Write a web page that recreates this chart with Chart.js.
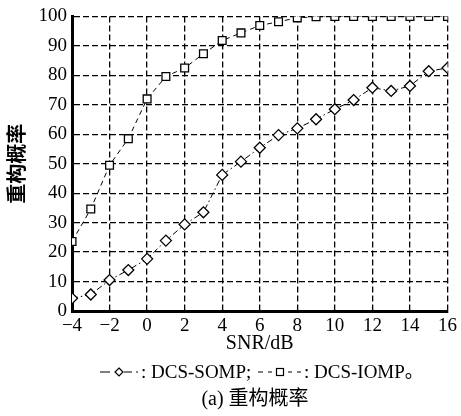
<!DOCTYPE html>
<html lang="zh">
<head>
    <meta charset="UTF-8">
    <title>重构概率</title>
    <style>
        body { margin: 0; background: #fff; }
        .wrap { position: relative; width: 461px; height: 416px; }
    </style>
    <script src="https://cdn.jsdelivr.net/npm/chart.js"></script>
</head>
<body>
    <div class="wrap">
        <canvas id="probChart" width="461" height="416"></canvas>
    </div>

    <script>
        // SNR values (dB) and reconstruction probability (%)
        const snr = [-4, -3, -2, -1, 0, 1, 2, 3, 4, 5, 6, 7, 8, 9, 10, 11, 12, 13, 14, 15, 16];
        const somp = [4.3, 5.6, 10.5, 13.9, 17.7, 23.9, 29.4, 33.5, 46.2, 50.7, 55.4, 59.7, 62, 65.1, 68.5, 71.6, 75.8, 74.7, 76.4, 81.4, 82.5];
        const iomp = [23.6, 34.6, 49.5, 58.5, 72, 79.6, 82.5, 87.3, 91.8, 94.4, 96.9, 98.2, 99.5, 99.9, 100, 100, 100, 100, 100, 100, 100];
        const xLabel = 'SNR/dB';
        const yLabel = '重构概率';
        const caption = '(a) 重构概率';

        const serif = "'Liberation Serif', 'Times New Roman', serif";
        const cjk = "'Liberation Serif', 'Noto Sans CJK SC', serif";

        // draws the y title, legend line and caption
        const extras = {
            id: 'extras',
            afterDraw(chart) {
                const ctx = chart.ctx;
                const area = chart.chartArea;
                ctx.save();
                ctx.fillStyle = '#000';
                ctx.strokeStyle = '#000';

                // vertical y title
                ctx.translate(19, (area.top + area.bottom) / 2);
                ctx.rotate(-Math.PI / 2);
                ctx.font = "bold 20px " + cjk;
                ctx.textAlign = 'center';
                ctx.textBaseline = 'middle';
                ctx.fillText(yLabel, 0, 0);
                ctx.setTransform(1, 0, 0, 1, 0, 0);

                // legend
                const ly = 372;
                ctx.lineWidth = 1.2;
                ctx.beginPath();
                ctx.moveTo(100, ly); ctx.lineTo(110, ly);
                ctx.moveTo(124, ly); ctx.lineTo(132, ly);
                ctx.moveTo(136, ly); ctx.lineTo(138, ly);
                ctx.stroke();
                ctx.beginPath();
                ctx.moveTo(119, ly - 4); ctx.lineTo(123, ly); ctx.lineTo(119, ly + 4); ctx.lineTo(115, ly); ctx.closePath();
                ctx.stroke();

                ctx.beginPath();
                ctx.moveTo(258, ly); ctx.lineTo(263, ly);
                ctx.moveTo(268, ly); ctx.lineTo(272, ly);
                ctx.moveTo(288, ly); ctx.lineTo(292, ly);
                ctx.moveTo(297, ly); ctx.lineTo(301, ly);
                ctx.stroke();
                ctx.strokeRect(276.5, ly - 3.5, 7, 7);

                ctx.font = "19px " + cjk;
                ctx.textAlign = 'left';
                ctx.textBaseline = 'middle';
                ctx.fillText(': DCS-SOMP;', 141, ly + 1);
                ctx.fillText(': DCS-IOMP。', 304, ly + 1);

                // caption
                ctx.textAlign = 'center';
                ctx.font = "20px " + cjk;
                ctx.fillText(caption, 255, 400);
                ctx.restore();
            }
        };

        const gridLines = {
            color: '#000',
            lineWidth: 1.3,
            drawTicks: false
        };

        new Chart(document.getElementById('probChart'), {
            type: 'line',
            data: {
                datasets: [
                    {
                        label: 'DCS-SOMP',
                        data: snr.map((x, i) => ({ x: x, y: somp[i] })),
                        borderColor: '#000',
                        borderWidth: 1,
                        borderDash: [6, 3, 1.5, 3],
                        pointStyle: 'rectRot',
                        pointRadius: 5.5,
                        pointBorderWidth: 1.3,
                        pointBackgroundColor: '#fff',
                        pointBorderColor: '#000',
                        tension: 0
                    },
                    {
                        label: 'DCS-IOMP',
                        data: snr.map((x, i) => ({ x: x, y: iomp[i] })),
                        borderColor: '#000',
                        borderWidth: 1,
                        borderDash: [5, 4],
                        pointStyle: 'rect',
                        pointRadius: 5.5,
                        pointBorderWidth: 1.3,
                        pointBackgroundColor: '#fff',
                        pointBorderColor: '#000',
                        tension: 0
                    }
                ]
            },
            options: {
                responsive: false,
                animation: false,
                layout: { padding: { top: 15, right: 11, bottom: 60, left: 0 } },
                plugins: {
                    legend: { display: false },
                    tooltip: { enabled: false }
                },
                scales: {
                    x: {
                        type: 'linear',
                        min: -4,
                        max: 16,
                        grid: gridLines,
                        border: { display: true, color: '#000', width: 3, dash: [6, 3] },
                        ticks: {
                            stepSize: 2,
                            color: '#000',
                            padding: 4,
                            maxRotation: 0,
                            font: { family: serif, size: 19 },
                            callback: v => String(v).replace('-', '\u2212')
                        },
                        title: {
                            display: true,
                            text: xLabel,
                            color: '#000',
                            padding: { top: 0, bottom: 0 },
                            font: { family: serif, size: 20 }
                        },
                        afterFit: s => { s.height = 45; }
                    },
                    y: {
                        min: 0,
                        max: 100,
                        grid: gridLines,
                        border: { display: true, color: '#000', width: 3, dash: [6, 3] },
                        ticks: {
                            stepSize: 10,
                            color: '#000',
                            padding: 5,
                            font: { family: serif, size: 19 }
                        },
                        afterFit: s => { s.width = 72; }
                    }
                }
            },
            plugins: [extras]
        });
    </script>
</body>
</html>
